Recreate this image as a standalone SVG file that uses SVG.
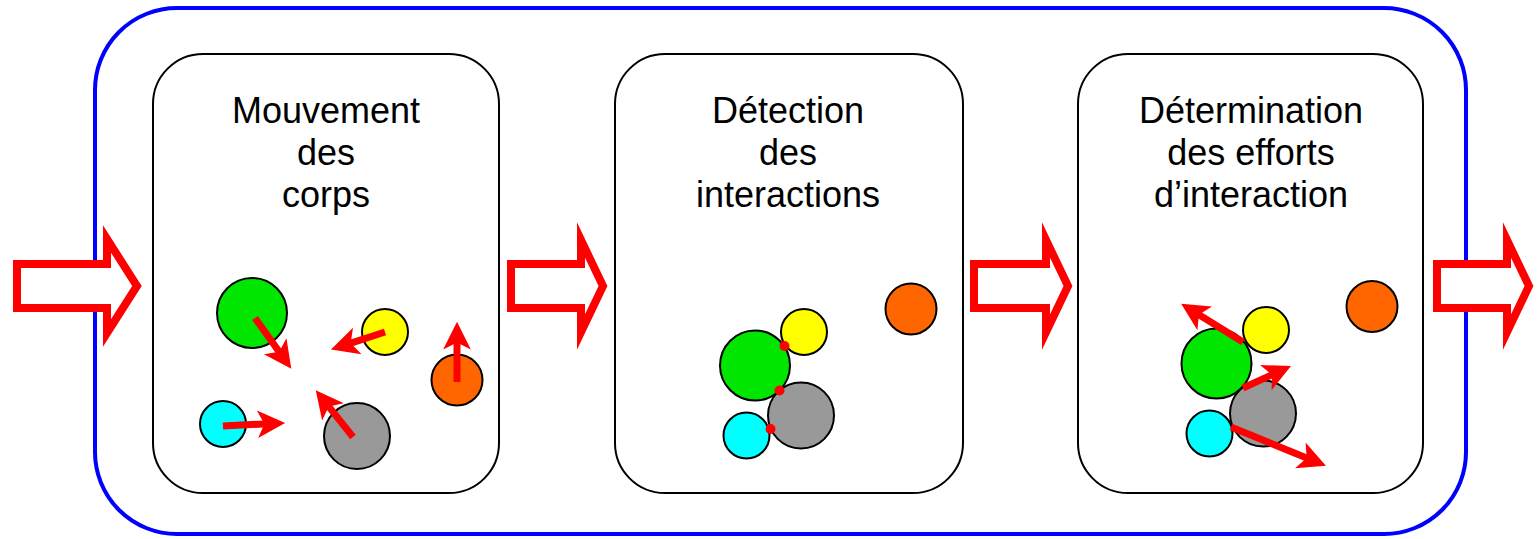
<svg xmlns="http://www.w3.org/2000/svg" width="1539" height="539" viewBox="0 0 1539 539">
<style>
.frame{fill:#fff;stroke:#0000ff;stroke-width:4}
.panel{fill:#fff;stroke:#000;stroke-width:2}
.t{font-family:"Liberation Sans",Arial,sans-serif;font-size:36px;fill:#000;text-anchor:middle}
.c{stroke:#000;stroke-width:2}
.g{fill:#00e600}.y{fill:#ffff00}.o{fill:#ff6600}.cy{fill:#00ffff}.gr{fill:#999999}
.v{stroke:#ff0000;stroke-width:7;fill:none;marker-end:url(#ah)}
.big{fill:#fff;stroke:#ff0000;stroke-width:8;stroke-linejoin:miter;stroke-miterlimit:10}
.dot{fill:#ff0000}
</style>
<defs>
<marker id="ah" markerUnits="userSpaceOnUse" markerWidth="30" markerHeight="30" viewBox="0 -13 26 26" refX="10" refY="0" orient="auto">
<path d="M0,-12 L24,0 L0,12 L6,0 Z" fill="#ff0000"/>
</marker>
</defs>
<rect class="frame" x="95" y="8" width="1371" height="526" rx="82" ry="82"/>
<g id="panel1">
<rect class="panel" x="153" y="54" width="346" height="439" rx="50" ry="50"/>
<text class="t" x="326" y="123">Mouvement</text>
<text class="t" x="326" y="165">des</text>
<text class="t" x="326" y="207">corps</text>
<circle class="c g" cx="252" cy="313" r="35"/>
<circle class="c y" cx="385" cy="332" r="23"/>
<circle class="c o" cx="457" cy="380" r="25.5"/>
<circle class="c cy" cx="223" cy="424" r="23"/>
<circle class="c gr" cx="357" cy="436" r="33"/>
<line class="v" x1="255" y1="318" x2="281.9" y2="355.6"/>
<line class="v" x1="385" y1="332" x2="346.3" y2="344.6"/>
<line class="v" x1="457" y1="382" x2="457" y2="338"/>
<line class="v" x1="223" y1="426" x2="269" y2="423.7"/>
<line class="v" x1="353" y1="437" x2="325.8" y2="402.9"/>
</g>
<g id="panel2">
<rect class="panel" x="615" y="54" width="348" height="439" rx="50" ry="50"/>
<text class="t" x="788" y="123">Détection</text>
<text class="t" x="788" y="165">des</text>
<text class="t" x="788" y="207">interactions</text>
<circle class="c o" cx="911" cy="309" r="25.5"/>
<circle class="c y" cx="804" cy="332" r="23"/>
<circle class="c g" cx="755" cy="365.5" r="35"/>
<circle class="c gr" cx="801" cy="415.5" r="33"/>
<circle class="c cy" cx="746.5" cy="435.5" r="23"/>
<circle class="dot" cx="784.5" cy="346" r="5"/>
<circle class="dot" cx="779.5" cy="390.5" r="5"/>
<circle class="dot" cx="770.5" cy="429" r="5"/>
</g>
<g id="panel3">
<rect class="panel" x="1078" y="54" width="345" height="439" rx="50" ry="50"/>
<text class="t" x="1251" y="123">Détermination</text>
<text class="t" x="1251" y="165">des efforts</text>
<text class="t" x="1251" y="207">d’interaction</text>
<circle class="c o" cx="1372" cy="306.5" r="25.5"/>
<circle class="c y" cx="1266" cy="330" r="23"/>
<circle class="c g" cx="1216.5" cy="363.5" r="35"/>
<circle class="c gr" cx="1263" cy="413.5" r="33"/>
<circle class="c cy" cx="1209.5" cy="433.5" r="23"/>
<line class="v" x1="1243" y1="342" x2="1194.9" y2="312.3"/>
<line class="v" x1="1243" y1="388" x2="1276.3" y2="372.8"/>
<line class="v" x1="1231" y1="427" x2="1311" y2="459.7"/>
</g>
<g id="connectors">
<polygon class="big" points="17,264 107,264 107,239 137,286 107,333 107,308 17,308"/>
<polygon class="big" points="511,264 581,264 581,240 603,286 581,332 581,308 511,308"/>
<polygon class="big" points="974,264 1046,264 1046,240 1068,286 1046,332 1046,308 974,308"/>
<polygon class="big" points="1437,264 1507,264 1507,240 1529,286 1507,332 1507,308 1437,308"/>
</g>
</svg>
